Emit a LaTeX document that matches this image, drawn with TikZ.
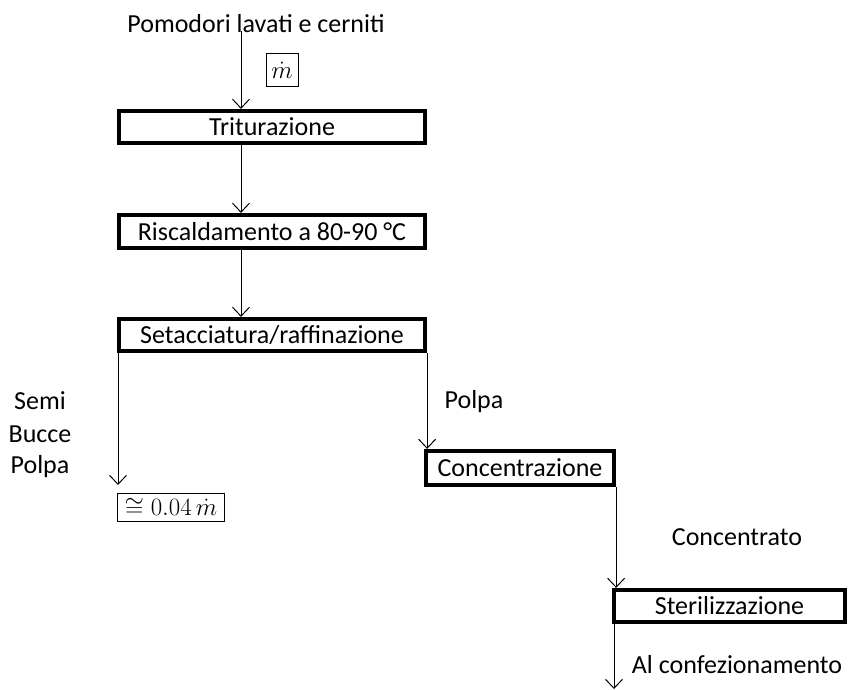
\documentclass[tikz,border=0pt]{standalone}
\usepackage{fontspec}
\setmainfont{Carlito}
\usetikzlibrary{arrows.meta}
\begin{document}
\begin{tikzpicture}[x=1pt,y=-1pt,
  stage/.style={draw,line width=4.2pt,fill=white,minimum height=32pt,inner sep=0pt,font=\fontsize{26}{30}\selectfont},
  lbl/.style={font=\fontsize{26}{30}\selectfont,inner sep=0pt},
  qbox/.style={draw,line width=0.8pt,inner sep=2pt},
  arr/.style={line width=1pt,-{Straight Barb[length=9pt,width=17pt,line width=1pt]}}]
\useasboundingbox (0,0) rectangle (848,689);
\node[stage,minimum width=306pt] (trit) at (272,127) {Triturazione};
\node[stage,minimum width=306pt,minimum height=33pt] (risc) at (272,231.5) {Riscaldamento a 80-90 °C};
\node[stage,minimum width=306pt] (set) at (272,335) {Setacciatura/raffinazione};
\node[stage,minimum width=188pt,minimum height=34pt] (conc) at (520,468) {Concentrazione};
\node[stage,minimum width=231pt] (ster) at (729.5,606) {Sterilizzazione};
\node[lbl] (pom) at (256,24) {Pomodori lavati e cerniti};
\node[qbox,minimum width=32pt,minimum height=33pt,font=\fontsize{23}{26}\selectfont] (m) at (282,70) {$\dot m$};
\coordinate (top) at (241,31);
\draw[arr] (top) -- (top |- trit.north);
\draw[arr] (trit.south -| top) -- (risc.north -| top);
\draw[arr] (risc.south -| top) -- (set.north -| top);
\coordinate (waste) at (118,485);
\draw[arr] (set.south west -| waste) -- (waste);
\node[qbox,anchor=north west,minimum width=107pt,minimum height=28pt,font=\fontsize{26}{28}\selectfont] (frac) at (117,493) {$\cong 0.04\,\dot m$};
\node[lbl] (semi) at (40,401) {Semi};
\node[lbl] (bucce) at (40,434) {Bucce};
\node[lbl] (polpa1) at (40,467) {Polpa};
\draw[arr] (set.south east) -- (set.south east |- conc.north);
\node[lbl] (polpa2) at (474,402) {Polpa};
\draw[arr] (conc.south east) -- (conc.south east |- ster.north);
\node[lbl] (concentrato) at (737,537) {Concentrato};
\coordinate (out) at (614,689);
\draw[arr] (ster.south west -| out) -- (out);
\node[lbl] (conf) at (737,665) {Al confezionamento};
\end{tikzpicture}
\end{document}
